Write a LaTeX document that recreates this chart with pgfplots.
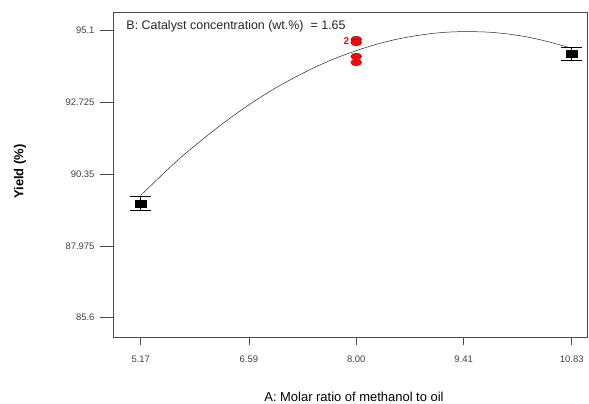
\documentclass[border=0pt]{standalone}
\usepackage{fontspec}
\setmainfont{Liberation Sans}
\usepackage{pgfplots}
\pgfplotsset{compat=1.18}
\definecolor{ptred}{RGB}{232,16,16}
\definecolor{ptredd}{RGB}{170,0,0}
\begin{document}
\begin{tikzpicture}
\begin{axis}[
  scale only axis, width=474bp, height=325bp,
  xmin=4.806, xmax=11.03, ymin=84.96, ymax=95.72,
  axis line style={draw=black!70, line width=0.6pt},
  tick pos=left, tick align=outside,
  major tick length=13bp,
  xtick={5.17,6.59,8.00,9.41,10.83},
  xticklabels={5.17,6.59,8.00,9.41,10.83},
  ytick={85.6,87.975,90.35,92.725,95.1},
  yticklabels={85.6,87.975,90.35,92.725,95.1},
  xtick style={draw=black!70, line width=0.6pt, /pgfplots/major tick length=8bp},
  ytick style={draw=black!70, line width=0.6pt},
  /pgf/number format/assume math mode=true,
  x tick label style={font=\fontsize{9.5}{11}\selectfont, text=black!75, yshift=-2bp},
  y tick label style={font=\fontsize{9.5}{11}\selectfont, text=black!75, xshift=-2bp},
  xlabel={A: Molar ratio of methanol to oil},
  ylabel={\bfseries Yield (\%)},
  xlabel style={font=\fontsize{13}{15}\selectfont, at={(axis description cs:0.5,0)}, anchor=base, inner sep=0pt, text depth=0pt, yshift=-64bp, xshift=4bp},
  ylabel style={font=\fontsize{13}{15}\selectfont, at={(axis description cs:0,0.5)}, anchor=center, yshift=93bp, xshift=3bp},
  clip=false,
]
% fitted curve
\addplot[black!85, line width=0.5pt, smooth] coordinates {
(5.17,89.65) (5.5,90.45) (5.75,91.02) (6.0,91.54) (6.25,92.03) (6.5,92.49)
(6.75,92.91) (7.0,93.29) (7.25,93.63) (7.5,93.94) (7.75,94.21) (8.0,94.44)
(8.25,94.64) (8.5,94.80) (8.75,94.92) (9.0,95.01) (9.25,95.06) (9.5,95.07)
(9.75,95.05) (10.0,94.99) (10.25,94.89) (10.5,94.75) (10.83,94.52)
};
% predicted points with error bars
\addplot[only marks, mark=square*, mark options={fill=black, draw=black, xscale=1.55}, mark size=3.4bp,
  error bars/.cd, y dir=both, y explicit,
  error bar style={black, line width=0.6pt},
  error mark options={black, line width=0.6pt, mark size=10.5bp, rotate=90}]
  coordinates {
  (5.17,89.385) +- (0,0.22)
  (10.83,94.34) +- (0,0.21)
};
% design points
\addplot[only marks, mark=*, mark size=3.4bp, mark options={fill=ptred, draw=ptredd, line width=0.4pt, xscale=1.6}]
  coordinates {
  (8.0,94.81) (8.0,94.71) (8.0,94.25) (8.0,94.05)
};
\node[anchor=base west, font=\fontsize{12.5}{14}\selectfont, text=black!85] at (axis description cs:0.021,1) [yshift=-17.5bp] {B: Catalyst concentration (wt.\%)\ \ = 1.65};
\node[anchor=east, font=\fontsize{10}{12}\selectfont\bfseries, text=ptred, inner sep=0pt] at (axis cs:8.0,94.76) [xshift=-7bp] {2};
\end{axis}
\pgfresetboundingbox
\useasboundingbox ([xshift=-113bp,yshift=-67bp]current axis.south west) rectangle ([xshift=2bp,yshift=12bp]current axis.north east);
\end{tikzpicture}
\end{document}
